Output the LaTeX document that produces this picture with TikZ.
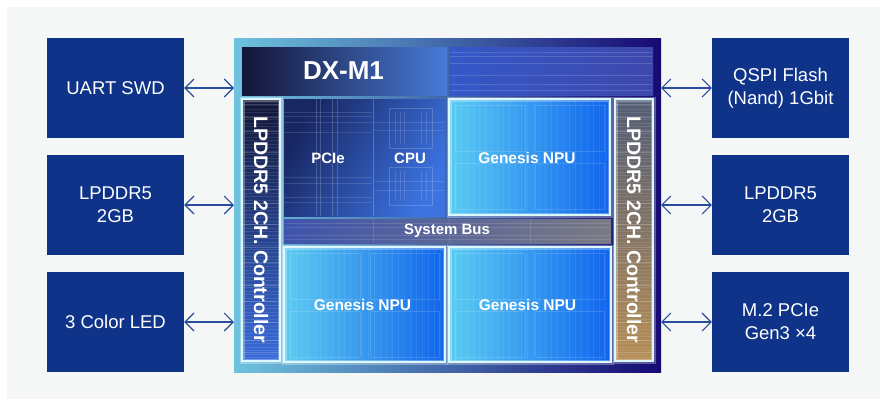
\documentclass[tikz,border=0pt]{standalone}
\usepackage{fontspec}
\setmainfont{Liberation Sans}
\usetikzlibrary{arrows.meta}
\definecolor{boxblue}{RGB}{14,51,136}
\definecolor{panel}{RGB}{245,247,247}
\definecolor{arrowc}{RGB}{42,76,156}
\definecolor{chipL}{RGB}{110,195,222}
\definecolor{chipM}{RGB}{50,100,210}
\definecolor{chipR}{RGB}{22,10,115}
\definecolor{titleL}{RGB}{20,22,56}
\definecolor{titleM}{RGB}{30,42,100}
\definecolor{titleR}{RGB}{72,122,215}
\definecolor{toprL}{RGB}{52,88,200}
\definecolor{toprR}{RGB}{62,72,172}
\definecolor{ctlLt}{RGB}{18,22,55}
\definecolor{ctlLb}{RGB}{58,108,218}
\definecolor{ctlRt}{RGB}{82,92,118}
\definecolor{ctlRb}{RGB}{182,142,86}
\definecolor{pcL}{RGB}{24,38,98}
\definecolor{pcR}{RGB}{60,115,225}
\definecolor{npuL}{RGB}{92,204,242}
\definecolor{npuR}{RGB}{16,100,236}
\definecolor{busL}{RGB}{62,84,172}
\definecolor{busM}{RGB}{96,110,172}
\definecolor{busR}{RGB}{122,122,132}
\definecolor{glowc}{RGB}{220,248,255}
\tikzset{
  extbox/.style={fill=boxblue, minimum width=137pt, minimum height=100pt, inner sep=0pt,
    text=white, align=center, font=\fontsize{18.5}{23}\selectfont},
  link/.style={draw=arrowc, line width=1.1pt,
    {Straight Barb[length=9pt,width=18pt]}-{Straight Barb[length=9pt,width=18pt]}},
  blk/.style={inner sep=0pt, outer sep=0pt},
  glow/.style={draw=glowc, line width=1.4pt,
    preaction={draw=white, draw opacity=0.3, line width=5pt}},
  chiplabel/.style={text=white, font=\bfseries\fontsize{15.5}{18}\selectfont, inner sep=0pt},
  streak/.style={white, opacity=0.10, line width=0.6pt},
  streakb/.style={white, opacity=0.18, line width=0.5pt},
  gridl/.style={white, opacity=0.07, line width=0.5pt},
  deco/.style={white, opacity=0.22, line width=0.6pt},
}
\begin{document}
\begin{tikzpicture}[x=1pt,y=-1pt]
\useasboundingbox (0,0) rectangle (880,399);
\fill[white] (0,0) rectangle (880,399);
\fill[panel] (7,7) rectangle (880,399);

% external boxes
\node[extbox] (uart) at (115.5,88) {UART SWD};
\node[extbox] (lpl) at (115.5,205) {LPDDR5\\2GB};
\node[extbox] (led) at (115.5,322) {3 Color LED};
\node[extbox] (qspi) at (780.5,88) {QSPI Flash\\(Nand) 1Gbit};
\node[extbox] (lpr) at (780.5,205) {LPDDR5\\2GB};
\node[extbox] (m2) at (780.5,322) {M.2 PCIe\\Gen3 ×4};

% chip frame
\node[blk, minimum width=427pt, minimum height=334pt,
  left color=chipL, middle color=chipM, right color=chipR] (chip) at (447.5,205) {};

% title and top right
\node[blk, minimum width=205pt, minimum height=48pt,
  left color=titleL, middle color=titleM, right color=titleR] (title) at (344.5,71) {};
\node[blk, minimum width=204pt, minimum height=48pt,
  left color=toprL, right color=toprR] (topr) at (551,71) {};
\foreach \y in {52,56,63,75,84,90}
  \draw[deco, opacity=0.15] (450,\y) -- (652,\y);

% PCIe / CPU region
\node[blk, minimum width=161pt, minimum height=117pt,
  left color=pcL, right color=pcR, shading angle=60] (pc) at (364.5,157.5) {};
\draw[deco] (373,99) -- (373,216);
\foreach \x in {316,320,332,337}
  \draw[deco, opacity=0.18] (\x,99) -- (\x,216);
\foreach \y in {112,116,122,132,177,183,197,202}
  \draw[deco, opacity=0.13] (284,\y) -- (372,\y);
\draw[deco, opacity=0.18] (389,108) rectangle (432,148);
\draw[deco, opacity=0.18] (389,167) rectangle (432,205);
\foreach \x in {395,400,404,421,426}{
  \draw[deco, opacity=0.13] (\x,112) -- (\x,144);
  \draw[deco, opacity=0.13] (\x,171) -- (\x,201);}
\foreach \y in {122,130,181,190}
  \draw[deco, opacity=0.13] (374,\y) -- (444,\y);

% NPUs
\node[blk, minimum width=161pt, minimum height=116pt,
  left color=npuL, right color=npuR] (npu1) at (529.5,157) {};
\node[blk, minimum width=161pt, minimum height=115pt,
  left color=npuL, right color=npuR] (npu2) at (364.5,304.5) {};
\node[blk, minimum width=162pt, minimum height=115pt,
  left color=npuL, right color=npuR] (npu3) at (530,304.5) {};
\foreach \x in {455,461,...,605}
  \draw[gridl] (\x,101) -- (\x,213);
\foreach \x in {290,296,...,440}
  \draw[gridl] (\x,249) -- (\x,360);
\foreach \x in {455,461,...,606}
  \draw[gridl] (\x,249) -- (\x,360);
\foreach \bx/\by in {449/99,284/247,449/247}{
  \draw[gridl, opacity=0.14] (\bx+6,\by+6) rectangle (\bx+76,\by+52);
  \draw[gridl, opacity=0.14] (\bx+86,\by+6) rectangle (\bx+155,\by+52);
  \draw[gridl, opacity=0.14] (\bx+6,\by+64) rectangle (\bx+76,\by+110);
  \draw[gridl, opacity=0.14] (\bx+86,\by+64) rectangle (\bx+155,\by+110);}
\draw[glow] (npu1.north west) rectangle (npu1.south east);
\draw[glow] (npu2.north west) rectangle (npu2.south east);
\draw[glow] (npu3.north west) rectangle (npu3.south east);

% system bus
\node[blk, minimum width=327pt, minimum height=24pt,
  left color=busL, middle color=busM, right color=busR] (bus) at (447.5,231) {};
\foreach \y in {223,227,235,239}
  \draw[deco, opacity=0.12] (285,\y) -- (610,\y);
\foreach \x in {373,449,530}
  \draw[deco, opacity=0.12] (\x,219) -- (\x,243);

% controllers
\node[blk, minimum width=38pt, minimum height=262pt,
  top color=ctlLt, bottom color=ctlLb] (ctrlL) at (261,230) {};
\node[blk, minimum width=38pt, minimum height=262pt,
  top color=ctlRt, bottom color=ctlRb] (ctrlR) at (634,230) {};
\foreach \y in {102,105.5,...,358}{
  \draw[streak] (243,\y) -- (279,\y);
  \draw[streak] (616,\y) -- (652,\y);}
\foreach \y in {104,117,131,152,166,189,203,224,247,262,285,301,322,340,352}{
  \draw[streakb] (243,\y) -- (279,\y);
  \draw[streakb] (616,\y) -- (652,\y);}
\draw[glow] (ctrlL.north west) rectangle (ctrlL.south east);
\draw[glow] (ctrlR.north west) rectangle (ctrlR.south east);

% labels
\node[text=white, font=\bfseries\fontsize{26}{30}\selectfont, inner sep=0pt] (titlet) at (343.5,71) {DX-M1};
\node[chiplabel, font=\bfseries\fontsize{15}{18}\selectfont] (pcie) at (328,158) {PCIe};
\node[chiplabel, font=\bfseries\fontsize{15}{18}\selectfont] (cpu) at (410,158) {CPU};
\node[chiplabel] (npu1t) at (527,158) {Genesis NPU};
\node[chiplabel] (npu2t) at (362.5,304.5) {Genesis NPU};
\node[chiplabel] (npu3t) at (527.5,304.5) {Genesis NPU};
\node[chiplabel, font=\bfseries\fontsize{15}{18}\selectfont] (bust) at (447,231) {System Bus};
\node[chiplabel, font=\bfseries\fontsize{19.5}{22}\selectfont, rotate=-90] (ctrlLt) at (ctrlL.center) {LPDDR5 2CH. Controller};
\node[chiplabel, font=\bfseries\fontsize{19.5}{22}\selectfont, rotate=-90] (ctrlRt) at (ctrlR.center) {LPDDR5 2CH. Controller};

% connectors
\draw[link] (uart.east) -- (uart.east -| chip.west);
\draw[link] (lpl.east) -- (lpl.east -| chip.west);
\draw[link] (led.east) -- (led.east -| chip.west);
\draw[link] (chip.east |- qspi.west) -- (qspi.west);
\draw[link] (chip.east |- lpr.west) -- (lpr.west);
\draw[link] (chip.east |- m2.west) -- (m2.west);
\end{tikzpicture}
\end{document}
